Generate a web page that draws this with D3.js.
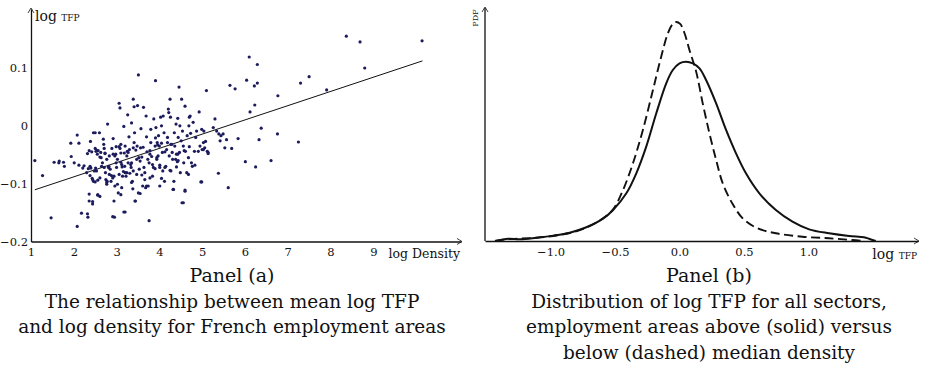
<!DOCTYPE html>
<html>
<head>
<meta charset="utf-8">
<script src="https://cdn.jsdelivr.net/npm/d3@7"></script>
<style>
  body { margin: 0; background: #fff; }
  text { font-family: "DejaVu Serif", serif; fill: #111; }
</style>
</head>
<body>
<div id="chart"></div>
<script>
// panel (a): log density vs mean log TFP, one dot per employment area
const density = [
  1.09,1.27,1.47,1.54,1.65,1.66,1.76,1.78,1.93,1.94,2.01,2.08,2.12,2.12,2.18,2.21,2.24,2.08,2.30,2.32,
  2.34,2.33,2.32,2.36,2.36,2.38,2.39,2.40,2.43,2.46,2.46,2.50,2.50,2.52,2.51,2.53,2.55,2.56,2.60,2.61,
  2.44,2.44,2.38,2.48,2.50,2.56,2.63,2.64,2.65,2.67,2.69,2.70,2.71,2.73,2.74,2.75,2.77,2.78,2.79,2.81,
  2.82,2.85,2.83,2.87,2.88,2.91,2.92,2.92,2.95,2.94,2.96,2.98,2.99,3.00,3.02,3.02,3.04,3.06,3.06,3.08,
  3.10,3.10,3.10,3.12,3.13,3.14,3.16,3.17,3.17,3.18,3.19,3.20,3.22,3.24,3.25,3.26,3.27,3.29,3.30,3.31,
  3.33,3.34,3.35,3.35,3.37,3.38,3.39,3.41,3.41,3.42,3.44,3.45,3.47,3.47,3.48,3.49,3.51,3.52,3.53,3.55,
  3.55,3.56,3.57,3.59,3.61,3.63,3.64,3.66,3.66,3.68,3.69,3.70,3.71,3.73,3.74,3.76,3.76,3.78,3.80,3.80,
  3.82,3.84,3.84,3.86,3.87,3.90,3.91,3.91,3.92,3.94,3.95,3.97,3.98,4.00,4.01,4.03,4.05,4.05,4.07,4.08,
  4.09,4.11,4.12,4.13,4.15,4.17,4.19,4.19,4.21,4.22,4.23,4.25,4.26,4.27,4.29,4.30,4.31,4.33,4.34,4.35,
  4.36,4.38,4.39,4.40,4.42,4.43,4.44,4.46,4.47,4.48,4.49,4.51,4.52,4.53,4.54,4.56,4.57,4.60,4.60,4.61,
  4.64,4.65,4.68,4.69,4.70,4.72,4.73,4.75,4.77,4.79,4.82,4.85,4.87,4.91,4.93,4.95,4.97,4.99,5.00,5.03,
  5.04,5.06,5.08,5.10,5.12,5.14,5.26,5.30,5.34,5.38,5.39,5.42,5.44,5.49,5.53,5.57,5.61,5.65,5.69,5.77,
  5.84,6.10,6.29,6.04,6.22,6.29,6.77,7.30,7.50,7.91,8.37,8.69,8.80,10.14,6.23,6.12,6.38,6.33,6.76,7.25,
  6.01,6.25,6.61,
  2.36,2.42,2.53,2.57,2.61,2.73,2.77,2.89,2.99,3.08,3.20,3.27,3.39,2.71,2.83,2.94,3.06,3.24,3.39,2.44,
  2.61,2.77,2.96,3.12,3.35,2.56,3.10,3.20,3.51,2.91,
  3.62,3.78,3.96,4.13,4.27,4.43,4.58,4.70,5.03,5.14,3.94,4.01,3.90,4.25,4.44,4.40,3.59,3.78,4.05,4.68,
  4.83,4.99,3.70,4.01,4.32,4.60,3.43,4.56
];
const meanTfp = [
  -0.060,-0.086,-0.159,-0.063,-0.064,-0.061,-0.063,-0.070,-0.030,-0.053,-0.064,-0.016,-0.030,-0.068,-0.151,-0.073,-0.069,-0.174,-0.081,-0.048,
  -0.074,-0.158,-0.152,-0.118,-0.130,-0.070,-0.027,-0.073,-0.091,-0.096,-0.012,-0.012,-0.039,-0.044,-0.073,-0.078,-0.049,-0.119,-0.012,-0.122,
  -0.131,-0.135,-0.086,-0.078,-0.097,-0.094,-0.046,-0.055,-0.070,-0.064,-0.023,-0.032,-0.039,-0.047,-0.081,-0.093,-0.101,-0.096,0.003,-0.072,
  -0.070,-0.075,-0.052,-0.096,-0.086,-0.090,-0.022,-0.049,-0.158,-0.130,-0.052,-0.049,-0.064,-0.072,-0.058,-0.101,-0.116,-0.036,0.039,0.031,
  -0.032,-0.047,-0.063,-0.067,-0.071,-0.087,-0.079,-0.149,-0.001,-0.047,-0.070,-0.081,-0.087,-0.052,-0.044,0.019,-0.064,-0.019,-0.041,-0.082,
  -0.067,-0.072,-0.064,0.005,-0.096,-0.109,0.046,0.033,-0.029,-0.012,-0.130,-0.042,-0.058,-0.084,-0.035,0.035,0.088,-0.055,-0.075,-0.061,
  -0.117,-0.038,-0.005,-0.054,-0.104,0.032,-0.072,-0.081,-0.093,-0.107,0.017,-0.019,-0.045,-0.058,-0.104,-0.164,-0.064,-0.049,-0.029,-0.006,
  -0.053,-0.067,-0.087,-0.072,0.012,-0.035,0.078,-0.021,-0.003,-0.055,-0.029,-0.052,-0.017,-0.035,-0.072,0.015,-0.030,0.000,-0.046,-0.078,
  0.017,-0.012,-0.096,-0.072,-0.070,-0.041,-0.029,-0.020,0.029,0.023,-0.052,0.046,0.015,-0.078,-0.032,-0.046,-0.058,-0.110,-0.096,-0.012,
  -0.035,-0.058,0.003,-0.049,-0.062,0.013,-0.020,0.067,-0.046,0.000,-0.081,-0.026,0.046,-0.133,-0.009,-0.035,-0.064,0.034,-0.113,-0.044,
  -0.081,-0.017,-0.055,0.000,0.015,0.017,-0.013,-0.064,-0.070,0.006,-0.044,-0.020,-0.009,-0.044,0.024,-0.035,-0.097,-0.006,-0.041,-0.029,
  -0.009,-0.038,-0.027,0.061,-0.044,-0.046,-0.003,0.012,-0.009,-0.082,-0.014,-0.026,-0.017,-0.014,-0.038,-0.024,-0.107,0.070,-0.039,0.064,
  -0.022,0.119,0.106,0.079,0.069,0.074,0.052,0.074,0.085,0.062,0.155,0.145,0.100,0.147,0.036,0.024,-0.004,-0.024,-0.014,-0.028,
  -0.062,-0.071,-0.060,
  -0.043,-0.045,-0.042,-0.043,-0.054,-0.048,-0.058,-0.039,-0.036,-0.039,-0.035,-0.046,-0.038,-0.072,-0.084,-0.087,-0.084,-0.081,-0.078,-0.093,
  -0.090,-0.098,-0.104,-0.107,-0.098,-0.120,-0.119,-0.149,-0.116,-0.157,
  -0.037,-0.043,-0.033,-0.045,-0.032,-0.049,-0.043,-0.036,-0.041,-0.048,-0.058,-0.068,-0.074,-0.077,-0.060,-0.071,-0.085,-0.090,-0.091,-0.084,
  -0.068,-0.097,-0.104,-0.104,-0.110,-0.111,-0.130,-0.133
];
const densityTicks = [1, 2, 3, 4, 5, 6, 7, 8, 9];
const tfpTicksA = [-0.2, -0.1, 0, 0.1];
// fitted line
const fitRange = [1.09, 10.15];
const fitSlope = 0.0246, fitIntercept = -0.1374;

// panel (b): kernel densities of log TFP
const aboveX = [-1.43,-1.327,-1.237,-1.108,-0.979,-0.851,-0.722,-0.593,-0.515,-0.412,-0.335,-0.258,-0.18,-0.103,-0.052,0,0.052,0.103,0.155,0.206,0.284,0.361,0.438,0.515,0.619,0.747,0.876,1.005,1.16,1.314,1.43,1.469,1.521];
const abovePdf = [0,0.026,0.019,0.037,0.06,0.093,0.153,0.249,0.346,0.532,0.755,1.053,1.425,1.76,1.908,1.983,2.001,1.983,1.927,1.797,1.536,1.239,0.978,0.755,0.532,0.346,0.216,0.13,0.086,0.056,0.041,0.026,0];
const belowX = [-1.43,-1.34,-1.237,-1.108,-0.979,-0.851,-0.722,-0.593,-0.515,-0.438,-0.361,-0.284,-0.206,-0.142,-0.09,-0.052,-0.026,0.005,0.039,0.077,0.129,0.18,0.232,0.284,0.335,0.412,0.49,0.593,0.747,0.954,1.16,1.34,1.418];
const belowPdf = [0,0.019,0.026,0.037,0.056,0.089,0.149,0.253,0.353,0.569,0.867,1.239,1.685,2.057,2.318,2.422,2.444,2.422,2.318,2.132,1.89,1.536,1.202,0.904,0.644,0.413,0.253,0.149,0.086,0.048,0.03,0.011,0];
const tfpTicksB = [-1.0, -0.5, 0.0, 0.5, 1.0];

const W = 925, H = 366;
const svg = d3.select("#chart").append("svg")
  .attr("width", W).attr("height", H)
  .style("background", "#fff");

function arrowRight(g, x, y) {
  g.append("path").attr("d", `M${x-5},${y-3}L${x},${y}L${x-5},${y+3}`)
    .attr("fill", "none").attr("stroke", "#111").attr("stroke-width", 0.8);
}
function arrowUp(g, x, y) {
  g.append("path").attr("d", `M${x-3},${y+5}L${x},${y}L${x+3},${y+5}`)
    .attr("fill", "none").attr("stroke", "#111").attr("stroke-width", 0.8);
}
function styleAxis(g, size) {
  g.selectAll(".domain").attr("stroke", "#111").attr("stroke-width", 1.3);
  g.selectAll("text").style("font-family", '"DejaVu Serif", serif').style("font-size", size).attr("fill", "#222");
}

// ---------- panel (a)
const xA = d3.scaleLinear().domain([1, 11.05]).range([31, 461]);
const yA = d3.scaleLinear().domain([-0.2, 0.202]).range([241.5, 9]);
const gA = svg.append("g");

gA.append("g")
  .attr("transform", `translate(0,${yA(-0.2)})`)
  .call(d3.axisBottom(xA).tickValues(densityTicks).tickSize(0).tickSizeOuter(0).tickPadding(6).tickFormat(d3.format("d")))
  .call(g => styleAxis(g, "11.5px"));
gA.append("g")
  .attr("transform", `translate(${xA(1)},0)`)
  .call(d3.axisLeft(yA).tickValues(tfpTicksA).tickSize(0).tickSizeOuter(0).tickPadding(3)
    .tickFormat(d => d === 0 ? "0" : d3.format(".1f")(d)))
  .call(g => styleAxis(g, "11.5px"));
arrowRight(gA, xA.range()[1] + 1, yA(-0.2));
arrowUp(gA, xA(1), yA.range()[1] - 1);

gA.append("text").attr("x", 460).attr("y", 258).attr("text-anchor", "end")
  .style("font-size", "12.5px").text("log Density");
const yl = gA.append("text").attr("x", 35).attr("y", 21).style("font-size", "14px");
yl.append("tspan").text("log ");
yl.append("tspan").style("font-size", "9px").text("TFP");

gA.append("line")
  .attr("x1", xA(fitRange[0])).attr("y1", yA(fitIntercept + fitSlope * fitRange[0]))
  .attr("x2", xA(fitRange[1])).attr("y2", yA(fitIntercept + fitSlope * fitRange[1]))
  .attr("stroke", "#111").attr("stroke-width", 1);

gA.selectAll("circle.pt")
  .data(density.map((d, i) => [d, meanTfp[i]]))
  .join("circle")
  .attr("class", "pt")
  .attr("cx", d => xA(d[0])).attr("cy", d => yA(d[1]))
  .attr("r", 1.6)
  .attr("fill", "#1c1c5c");

const capA = ["Panel (a)", "The relationship between mean log TFP", "and log density for French employment areas"];
capA.forEach((t, i) => {
  gA.append("text").attr("x", 232).attr("y", 282 + i * 25.5).attr("text-anchor", "middle")
    .style("font-size", i === 0 ? "19px" : "18.5px").text(t);
});

// ---------- panel (b)
const xB = d3.scaleLinear().domain([-1.508, 1.849]).range([485, 918]);
const yB = d3.scaleLinear().domain([0, 2.6]).range([241, 8]);
const gB = svg.append("g");

gB.append("g")
  .attr("transform", `translate(0,${yB(0)})`)
  .call(d3.axisBottom(xB).tickValues(tfpTicksB).tickSize(0).tickSizeOuter(0).tickPadding(7).tickFormat(d3.format(".1f")))
  .call(g => styleAxis(g, "11.5px"));
gB.append("line").attr("x1", xB(-1.508)).attr("x2", xB(-1.508)).attr("y1", yB(0)).attr("y2", yB.range()[1])
  .attr("stroke", "#111").attr("stroke-width", 1.3);
arrowRight(gB, xB.range()[1] + 1, yB(0));
arrowUp(gB, xB(-1.508), yB.range()[1] - 1);

const xl = gB.append("text").attr("x", 917).attr("y", 259).attr("text-anchor", "end").style("font-size", "14px");
xl.append("tspan").text("log ");
xl.append("tspan").style("font-size", "9px").text("TFP");
gB.append("text").attr("transform", "translate(478,18) rotate(-90)").attr("text-anchor", "middle")
  .style("font-size", "8px").text("PDF");

const line = d3.line().x(d => xB(d[0])).y(d => yB(d[1])).curve(d3.curveCatmullRom);
gB.append("path").datum(belowX.map((x, i) => [x, belowPdf[i]]))
  .attr("d", line).attr("fill", "none").attr("stroke", "#111")
  .attr("stroke-width", 1.9).attr("stroke-dasharray", "9,4.5");
gB.append("path").datum(aboveX.map((x, i) => [x, abovePdf[i]]))
  .attr("d", line).attr("fill", "none").attr("stroke", "#111").attr("stroke-width", 2);

const capB = ["Panel (b)", "Distribution of log TFP for all sectors,", "employment areas above (solid) versus", "below (dashed) median density"];
capB.forEach((t, i) => {
  gB.append("text").attr("x", 709).attr("y", 282 + i * 25.5).attr("text-anchor", "middle")
    .style("font-size", i === 0 ? "19px" : "18.5px").text(t);
});
</script>
</body>
</html>
